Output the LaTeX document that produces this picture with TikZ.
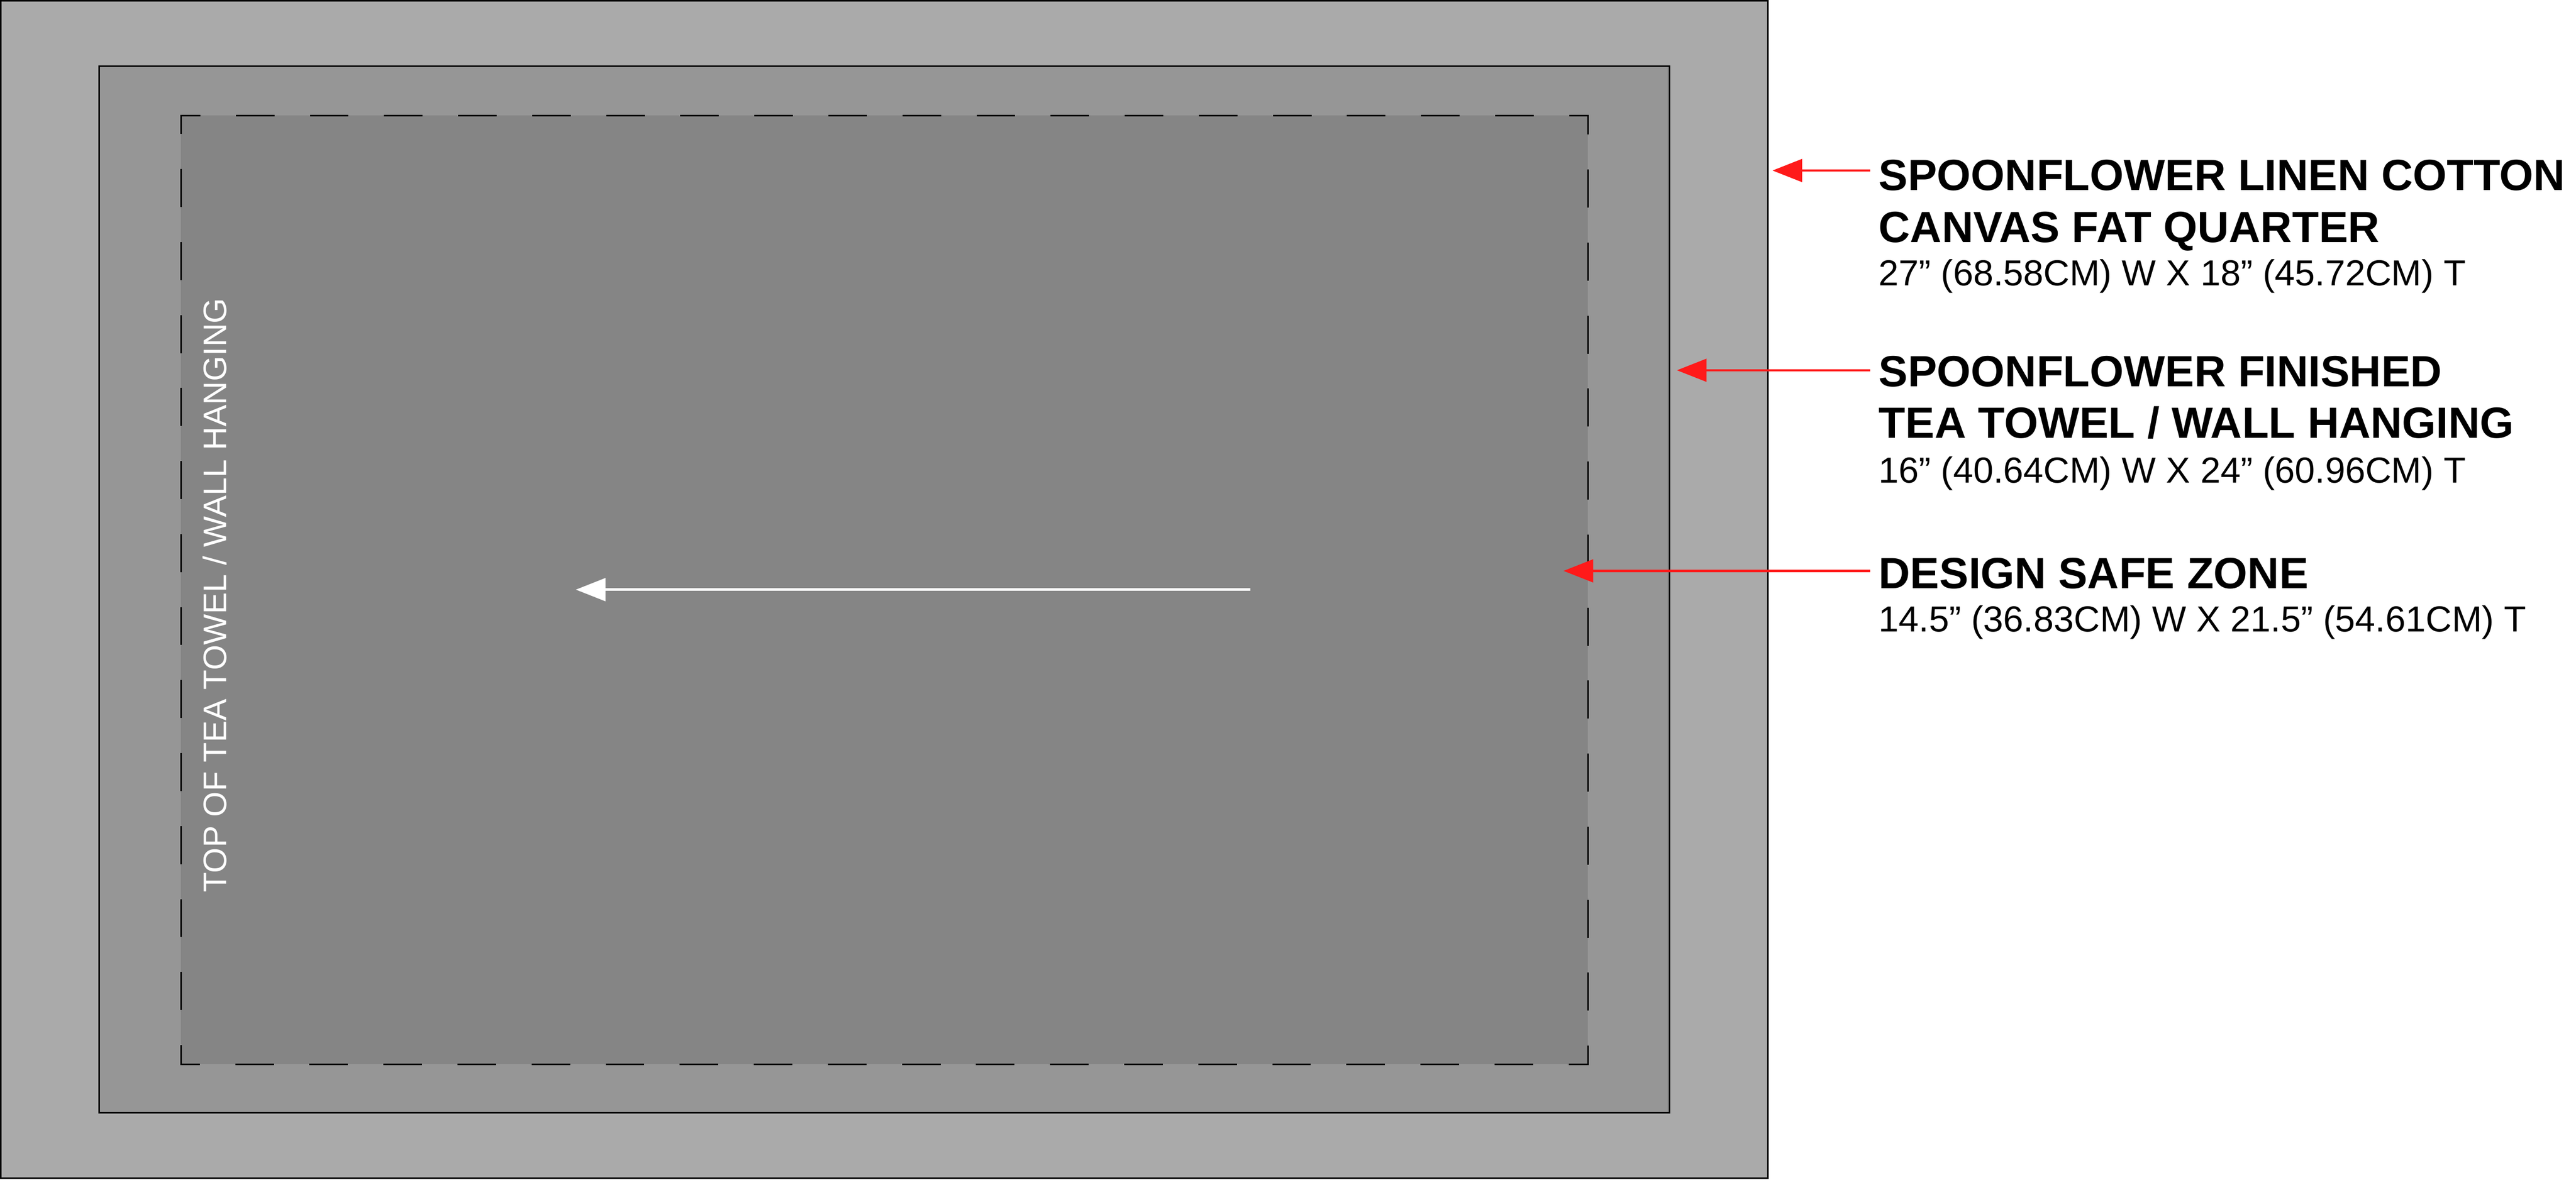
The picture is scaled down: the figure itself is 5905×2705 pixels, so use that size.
\documentclass[tikz,border=0pt]{standalone}
\usepackage{fontspec}
\setmainfont{Liberation Sans}
\usetikzlibrary{arrows.meta}
\definecolor{fatquarter}{RGB}{170,170,170}
\definecolor{towel}{RGB}{150,150,150}
\definecolor{safezone}{RGB}{133,133,133}
\definecolor{pointer}{RGB}{255,26,26}

\begin{document}
\begin{tikzpicture}[x=0.1mm, y=-0.1mm,
    edge/.style={draw=black, line width=0.35mm},
    hdash/.style={draw=black, line width=0.35mm, line cap=rect, dash pattern=on 8.49mm off 8.49mm, dash phase=4.24mm},
    vdash/.style={draw=black, line width=0.35mm, line cap=rect, dash pattern=on 8.37mm off 8.37mm, dash phase=4.18mm},
    pointerarrow/.style={-{Triangle[length=6.8mm, width=5.2mm]}, draw=pointer, line width=0.55mm},
    titletext/.style={anchor=base west, inner sep=0pt, font=\bfseries\fontsize{28.5}{34}\selectfont},
    sizetext/.style={anchor=base west, inner sep=0pt, font=\fontsize{23.6}{28}\selectfont}]
        \useasboundingbox (0,0) rectangle (5905,2705);

        % Fabric, towel and safe zone
        \filldraw[fill=fatquarter, edge] (2,2) rectangle (4052,2702);
        \filldraw[fill=towel, edge] (227,152) rectangle (3827,2552);
        \fill[safezone] (415,265) rectangle (3640,2440);
        \draw[hdash] (415,265) -- (3640,265);
        \draw[vdash] (3640,265) -- (3640,2440);
        \draw[hdash] (3640,2440) -- (415,2440);
        \draw[vdash] (415,2440) -- (415,265);

        % Labels
        \node[rotate=90, anchor=base, inner sep=0pt, text=white, font=\fontsize{21.3}{25}\selectfont] (toplabel) at (519,1365) {TOP OF TEA TOWEL / WALL HANGING};
        \node[titletext] (fqline1) at (4306,436) {SPOONFLOWER LINEN COTTON};
        \node[titletext] (fqline2) at (4306,556) {CANVAS FAT QUARTER};
        \node[sizetext] (fqsize) at (4306,655) {27” (68.58CM) W X 18” (45.72CM) T};
        \node[titletext] (towelline1) at (4306,886) {SPOONFLOWER FINISHED};
        \node[titletext] (towelline2) at (4306,1005) {TEA TOWEL / WALL HANGING};
        \node[sizetext] (towelsize) at (4306,1107) {16” (40.64CM) W X 24” (60.96CM) T};
        \node[titletext] (safeline) at (4306,1349) {DESIGN SAFE ZONE};
        \node[sizetext] (safesize) at (4306,1449) {14.5” (36.83CM) W X 21.5” (54.61CM) T};

        % Arrows
        \coordinate (toptail) at (2866,1352);
        \coordinate (toptip) at (1320,1352);
        \coordinate (fqtail) at (4287,391);
        \coordinate (fqtip) at (4063,391);
        \coordinate (toweltail) at (4287,849);
        \coordinate (toweltip) at (3844,849);
        \coordinate (safetail) at (4287,1309);
        \coordinate (safetip) at (3584,1309);
        \draw[pointerarrow, draw=white, line width=0.6mm] (toptail) -- (toptip);
        \draw[pointerarrow] (fqtail) -- (fqtip);
        \draw[pointerarrow] (toweltail) -- (toweltip);
        \draw[pointerarrow] (safetail) -- (safetip);
    \end{tikzpicture}
\end{document}
